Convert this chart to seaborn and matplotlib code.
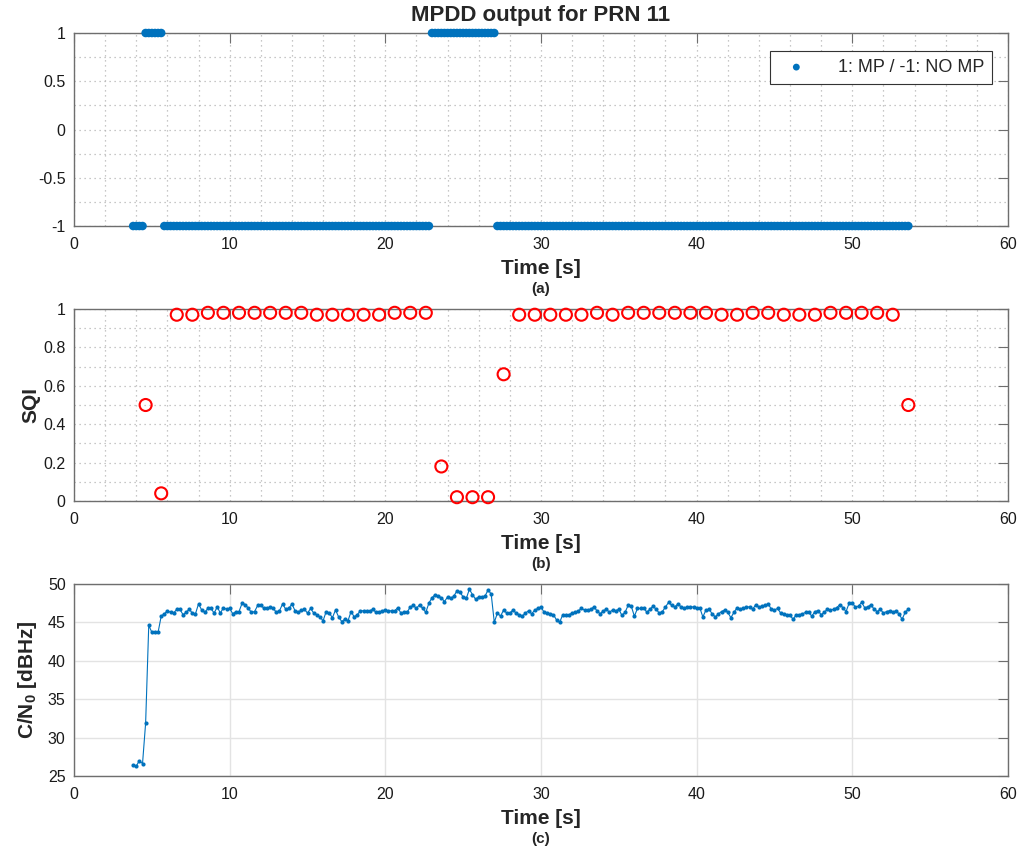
import seaborn as sns
import matplotlib.pyplot as plt
import matplotlib.ticker as mticker
import numpy as np
import pandas as pd

# --- Data (5 Hz samples) ---
time_s = [
    3.8, 4.0, 4.2, 4.4, 4.6, 4.8, 5.0, 5.2, 5.4, 5.6,
    5.8, 6.0, 6.2, 6.4, 6.6, 6.8, 7.0, 7.2, 7.4, 7.6,
    7.8, 8.0, 8.2, 8.4, 8.6, 8.8, 9.0, 9.2, 9.4, 9.6,
    9.8, 10.0, 10.2, 10.4, 10.6, 10.8, 11.0, 11.2, 11.4, 11.6,
    11.8, 12.0, 12.2, 12.4, 12.6, 12.8, 13.0, 13.2, 13.4, 13.6,
    13.8, 14.0, 14.2, 14.4, 14.6, 14.8, 15.0, 15.2, 15.4, 15.6,
    15.8, 16.0, 16.2, 16.4, 16.6, 16.8, 17.0, 17.2, 17.4, 17.6,
    17.8, 18.0, 18.2, 18.4, 18.6, 18.8, 19.0, 19.2, 19.4, 19.6,
    19.8, 20.0, 20.2, 20.4, 20.6, 20.8, 21.0, 21.2, 21.4, 21.6,
    21.8, 22.0, 22.2, 22.4, 22.6, 22.8, 23.0, 23.2, 23.4, 23.6,
    23.8, 24.0, 24.2, 24.4, 24.6, 24.8, 25.0, 25.2, 25.4, 25.6,
    25.8, 26.0, 26.2, 26.4, 26.6, 26.8, 27.0, 27.2, 27.4, 27.6,
    27.8, 28.0, 28.2, 28.4, 28.6, 28.8, 29.0, 29.2, 29.4, 29.6,
    29.8, 30.0, 30.2, 30.4, 30.6, 30.8, 31.0, 31.2, 31.4, 31.6,
    31.8, 32.0, 32.2, 32.4, 32.6, 32.8, 33.0, 33.2, 33.4, 33.6,
    33.8, 34.0, 34.2, 34.4, 34.6, 34.8, 35.0, 35.2, 35.4, 35.6,
    35.8, 36.0, 36.2, 36.4, 36.6, 36.8, 37.0, 37.2, 37.4, 37.6,
    37.8, 38.0, 38.2, 38.4, 38.6, 38.8, 39.0, 39.2, 39.4, 39.6,
    39.8, 40.0, 40.2, 40.4, 40.6, 40.8, 41.0, 41.2, 41.4, 41.6,
    41.8, 42.0, 42.2, 42.4, 42.6, 42.8, 43.0, 43.2, 43.4, 43.6,
    43.8, 44.0, 44.2, 44.4, 44.6, 44.8, 45.0, 45.2, 45.4, 45.6,
    45.8, 46.0, 46.2, 46.4, 46.6, 46.8, 47.0, 47.2, 47.4, 47.6,
    47.8, 48.0, 48.2, 48.4, 48.6, 48.8, 49.0, 49.2, 49.4, 49.6,
    49.8, 50.0, 50.2, 50.4, 50.6, 50.8, 51.0, 51.2, 51.4, 51.6,
    51.8, 52.0, 52.2, 52.4, 52.6, 52.8, 53.0, 53.2, 53.4, 53.6,
]

cn0_dbhz = [
    26.4, 26.3, 27.0, 26.6, 31.9, 44.6, 43.7, 43.7, 43.7, 45.8,
    46.1, 46.5, 46.3, 46.2, 46.7, 46.7, 46.0, 46.3, 46.7, 46.2,
    46.1, 47.4, 46.6, 46.3, 46.8, 46.8, 46.2, 47.0, 46.2, 46.9,
    46.7, 46.8, 46.1, 46.4, 46.4, 47.5, 47.3, 46.8, 46.3, 46.4,
    47.2, 47.3, 46.8, 46.8, 47.0, 46.8, 46.3, 46.5, 47.4, 46.7,
    46.8, 47.4, 46.5, 46.3, 46.6, 46.7, 46.2, 46.8, 46.2, 46.0,
    45.7, 45.2, 46.4, 46.2, 45.6, 46.6, 45.7, 45.1, 45.4, 45.2,
    46.4, 45.7, 46.0, 46.5, 46.5, 46.5, 46.5, 46.7, 46.3, 46.3,
    46.5, 46.6, 46.5, 46.5, 46.5, 46.9, 46.2, 46.3, 46.3, 47.0,
    47.2, 46.8, 47.3, 46.8, 46.3, 47.5, 48.2, 48.6, 48.4, 48.2,
    47.7, 48.3, 48.1, 48.4, 49.1, 48.9, 48.3, 48.1, 49.3, 48.6,
    48.0, 48.3, 48.3, 48.4, 49.2, 48.7, 45.0, 46.2, 45.8, 46.6,
    46.2, 46.2, 46.6, 46.2, 46.0, 45.8, 46.2, 46.5, 46.1, 46.6,
    46.8, 47.0, 46.3, 46.2, 46.1, 46.0, 45.3, 45.0, 46.0, 46.0,
    46.0, 46.2, 46.3, 46.5, 46.8, 46.6, 46.6, 46.7, 47.0, 46.5,
    46.1, 46.5, 46.7, 46.3, 46.6, 46.5, 46.7, 45.9, 46.3, 47.2,
    47.1, 45.8, 46.8, 46.8, 46.9, 46.3, 46.7, 47.1, 46.7, 46.2,
    46.4, 47.0, 47.6, 47.2, 47.0, 47.4, 47.0, 46.8, 47.0, 47.0,
    47.0, 46.8, 46.9, 45.7, 46.6, 46.7, 46.1, 45.7, 46.1, 46.4,
    46.6, 46.3, 45.6, 46.3, 46.9, 46.7, 46.8, 47.0, 47.0, 46.7,
    47.3, 47.0, 47.1, 47.2, 47.4, 46.7, 46.6, 46.8, 46.2, 46.1,
    46.0, 45.9, 45.4, 46.0, 46.0, 46.1, 46.3, 46.3, 45.8, 46.4,
    46.5, 46.0, 46.3, 46.7, 46.6, 46.7, 46.9, 47.3, 46.9, 46.4,
    47.5, 47.5, 47.0, 47.1, 47.6, 46.9, 47.0, 47.3, 46.7, 46.4,
    46.7, 46.2, 46.4, 46.5, 46.3, 46.5, 46.1, 45.4, 46.3, 46.7,
]

# MPDD decision as runs over the 5 Hz samples
mpdd_state = [-1, 1, -1, 1, -1]
mpdd_run_length = [4, 6, 86, 21, 133]

sqi_time_s = [
    4.6, 5.6, 6.6, 7.6, 8.6, 9.6, 10.6, 11.6, 12.6, 13.6,
    14.6, 15.6, 16.6, 17.6, 18.6, 19.6, 20.6, 21.6, 22.6, 23.6,
    24.6, 25.6, 26.6, 27.6, 28.6, 29.6, 30.6, 31.6, 32.6, 33.6,
    34.6, 35.6, 36.6, 37.6, 38.6, 39.6, 40.6, 41.6, 42.6, 43.6,
    44.6, 45.6, 46.6, 47.6, 48.6, 49.6, 50.6, 51.6, 52.6, 53.6,
]
sqi_value = [
    0.50, 0.04, 0.97, 0.97, 0.98, 0.98, 0.98, 0.98, 0.98, 0.98,
    0.98, 0.97, 0.97, 0.97, 0.97, 0.97, 0.98, 0.98, 0.98, 0.18,
    0.02, 0.02, 0.02, 0.66, 0.97, 0.97, 0.97, 0.97, 0.97, 0.98,
    0.97, 0.98, 0.98, 0.98, 0.98, 0.98, 0.98, 0.97, 0.97, 0.98,
    0.98, 0.97, 0.97, 0.97, 0.98, 0.98, 0.98, 0.98, 0.97, 0.50,
]

mpdd = pd.DataFrame({"t": time_s, "flag": np.repeat(mpdd_state, mpdd_run_length)})
sqi = pd.DataFrame({"t": sqi_time_s, "sqi": sqi_value})
cn0 = pd.DataFrame({"t": time_s, "cn0": cn0_dbhz})

# --- Style ---
sns.set_style("white")
plt.rcParams["font.family"] = ["Liberation Sans", "DejaVu Sans"]
plt.rcParams["mathtext.fontset"] = "custom"
plt.rcParams["mathtext.rm"] = "Liberation Sans"
plt.rcParams["mathtext.bf"] = "Liberation Sans:bold"

BLUE = "#0072BD"
AX_GREY = "#6e6e6e"
DOT_GRID = dict(linestyle=(0, (1, 3)), color="#b5b5b5", linewidth=0.9)

fig = plt.figure(figsize=(10.24, 8.64), dpi=100)
ax_a = fig.add_axes([0.0723, 0.7384, 0.912, 0.2234])
ax_b = fig.add_axes([0.0723, 0.4201, 0.912, 0.2223])
ax_c = fig.add_axes([0.0723, 0.1019, 0.912, 0.2223])


def matlab_axes(ax, letter):
    for s in ax.spines.values():
        s.set_color(AX_GREY)
        s.set_linewidth(1.0)
    ax.tick_params(which="both", direction="in", top=True, right=True,
                   colors=AX_GREY, labelcolor="#1a1a1a", labelsize=11.5)
    ax.tick_params(which="major", length=7)
    ax.tick_params(which="minor", length=0)
    ax.tick_params(axis="x", pad=8)
    ax.tick_params(axis="y", pad=6)
    ax.set_xlim(0, 60)
    ax.xaxis.set_major_locator(mticker.MultipleLocator(10))
    ax.set_xlabel("Time [s]", fontsize=15, fontweight="bold", labelpad=5)
    ax.text(0.5, -0.326, f"({letter})", transform=ax.transAxes, ha="center",
            va="center", fontsize=11, fontweight="bold")
    ax.set_axisbelow(True)


# --- (a) MPDD output ---
sns.scatterplot(data=mpdd, x="t", y="flag", ax=ax_a, color=BLUE, s=38,
                edgecolor="none", label="1: MP / -1: NO MP", zorder=3, clip_on=False)
matlab_axes(ax_a, "a")
ax_a.set_ylim(-1, 1)
ax_a.yaxis.set_major_locator(mticker.MultipleLocator(0.5))
ax_a.yaxis.set_major_formatter(mticker.FuncFormatter(lambda v, p: f"{v:g}"))
ax_a.xaxis.set_minor_locator(mticker.MultipleLocator(2))
ax_a.yaxis.set_minor_locator(mticker.MultipleLocator(0.25))
ax_a.grid(which="both", **DOT_GRID)
ax_a.set_title("MPDD output for PRN 11", fontsize=16, fontweight="bold", pad=9)
ax_a.set_ylabel("")
leg = ax_a.legend(loc="upper right", bbox_to_anchor=(0.993, 0.955), fontsize=13,
                  frameon=True, fancybox=False, framealpha=1, edgecolor="#333333",
                  handletextpad=1.3, borderpad=0.45, markerscale=0.8)
leg.get_frame().set_linewidth(0.8)

# --- (b) SQI ---
sns.scatterplot(data=sqi, x="t", y="sqi", ax=ax_b, marker="o", s=75,
                facecolor="none", edgecolor="red", linewidth=1.5, zorder=3, clip_on=False)
matlab_axes(ax_b, "b")
ax_b.set_ylim(0, 1)
ax_b.yaxis.set_major_locator(mticker.MultipleLocator(0.2))
ax_b.yaxis.set_major_formatter(mticker.FuncFormatter(lambda v, p: f"{v:g}"))
ax_b.xaxis.set_minor_locator(mticker.MultipleLocator(2))
ax_b.yaxis.set_minor_locator(mticker.MultipleLocator(0.1))
ax_b.grid(which="both", **DOT_GRID)
ax_b.set_ylabel("SQI", fontsize=15, fontweight="bold", labelpad=2)

# --- (c) C/N0 ---
sns.lineplot(data=cn0, x="t", y="cn0", ax=ax_c, color=BLUE, linewidth=0.8,
             marker="o", markersize=3, markeredgewidth=0, zorder=3)
matlab_axes(ax_c, "c")
ax_c.set_ylim(25, 50)
ax_c.yaxis.set_major_locator(mticker.MultipleLocator(5))
ax_c.grid(which="major", linestyle="-", color="#e3e3e3", linewidth=1.0)
ax_c.set_ylabel(r"C/N$_\mathbf{0}$ [dBHz]", fontsize=15, fontweight="bold")
ax_c.yaxis.set_label_coords(-0.037, 0.5)

fig.savefig("out.png", dpi=100)
plt.close(fig)
